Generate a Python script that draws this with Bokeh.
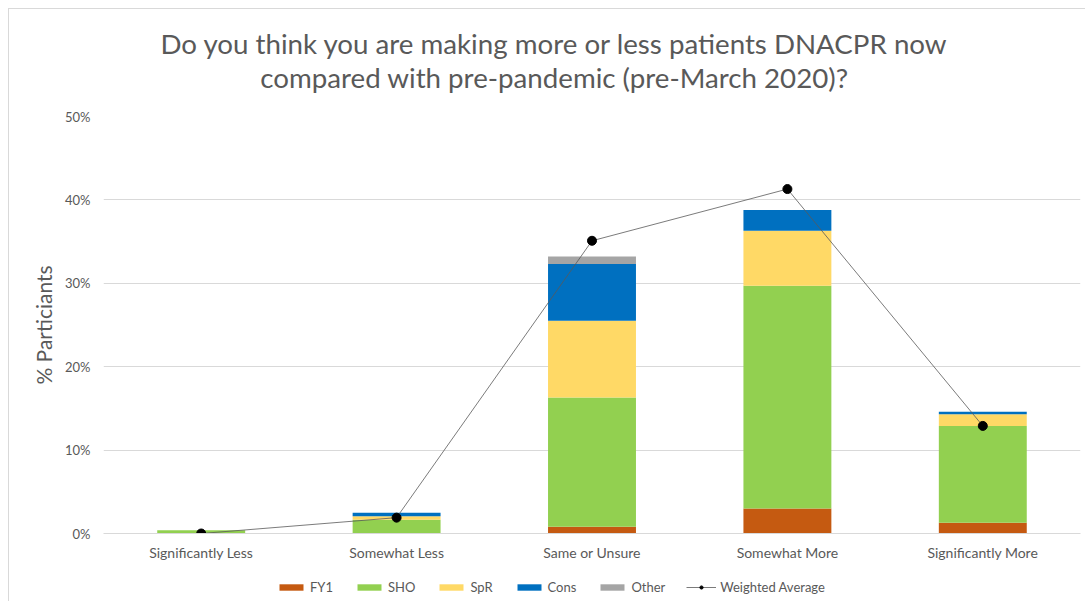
from bokeh.plotting import figure
from bokeh.layouts import column
from bokeh.models import ColumnDataSource, Legend, LegendItem, Label, PrintfTickFormatter, Range1d, FactorRange
from bokeh.embed import file_html
from bokeh.resources import INLINE

categories = ["Significantly Less", "Somewhat Less", "Same or Unsure", "Somewhat More", "Significantly More"]
fy1 = [0.0, 0.0, 0.8, 3.0, 1.3]
sho = [0.4, 1.65, 15.5, 26.7, 11.6]
spr = [0.0, 0.42, 9.2, 6.6, 1.4]
cons = [0.0, 0.42, 6.8, 2.5, 0.3]
other = [0.0, 0.0, 0.9, 0.0, 0.0]
weighted_avg = [0.0, 1.9, 35.1, 41.3, 12.9]
y_ticks = [0, 10, 20, 30, 40, 50]
title_lines = ["Do you think you are making more or less patients DNACPR now",
               "compared with pre-pandemic (pre-March 2020)?"]

series = ["FY1", "SHO", "SpR", "Cons", "Other"]
colors = ["#C55A11", "#92D050", "#FFD966", "#0070C0", "#A5A5A5"]

src = ColumnDataSource(dict(cat=categories, FY1=fy1, SHO=sho, SpR=spr, Cons=cons, Other=other, wa=weighted_avg))

FONT = "Lato"
GREY = "#595959"
W = 1076

# ---- title strip (frame aligned with the chart frame; x in page pixels) ----
pt = figure(width=W, height=97, x_range=Range1d(103, 1080), y_range=Range1d(0, 97),
            output_backend="svg", toolbar_location=None, x_axis_location=None, y_axis_location=None,
            min_border=0)
pt.grid.visible = False
pt.outline_line_color = None
for txt, yy in zip(title_lines, [63, 29]):
    pt.add_layout(Label(x=554, y=yy, text=txt, text_align="center", text_baseline="middle",
                        text_font=FONT, text_font_size="27.7px", text_color=GREY))

# ---- main chart ----
p = figure(x_range=FactorRange(*categories), y_range=Range1d(0, 50), width=W, height=467,
           output_backend="svg", toolbar_location=None,
           min_border_left=94, min_border_right=5, min_border_top=10, min_border_bottom=40)

bars = p.vbar_stack(series, x="cat", width=0.45, color=colors, source=src, line_color=None)
line = p.line(x="cat", y="wa", source=src, line_color=GREY, line_width=0.8)
dots = p.scatter(x="cat", y="wa", source=src, size=9, color="black")

p.yaxis.ticker = y_ticks
p.yaxis.formatter = PrintfTickFormatter(format="%d%%")
p.yaxis.axis_label = "% Particiants"
p.yaxis.axis_label_text_font = FONT
p.yaxis.axis_label_text_font_size = "21px"
p.yaxis.axis_label_text_font_style = "normal"
p.yaxis.axis_label_text_color = GREY
p.yaxis.axis_label_standoff = 6
p.yaxis.major_label_text_font = FONT
p.yaxis.major_label_text_font_size = "13px"
p.yaxis.major_label_text_color = GREY
p.yaxis.major_label_standoff = 7
p.yaxis.axis_line_color = None
p.yaxis.major_tick_line_color = None
p.yaxis.minor_tick_line_color = None

p.xaxis.major_label_text_font = FONT
p.xaxis.major_label_text_font_size = "14px"
p.xaxis.major_label_text_color = GREY
p.xaxis.major_label_standoff = 4
p.xaxis.axis_line_color = "#D9D9D9"
p.xaxis.major_tick_line_color = None
p.xaxis.minor_tick_line_color = None

p.xgrid.grid_line_color = None
p.ygrid.grid_line_color = "#D9D9D9"
p.ygrid.ticker = y_ticks
p.outline_line_color = None

# ---- legend strip (proxy renderers lie outside the strip's visible range) ----
pl = figure(width=W, height=28, x_range=Range1d(0, 1), y_range=Range1d(0, 1),
            output_backend="svg", toolbar_location=None, x_axis_location=None, y_axis_location=None,
            min_border=0)
pl.grid.visible = False
pl.outline_line_color = None
leg_src = ColumnDataSource(dict(x=[-5, -4], y=[-5, -5]))
items = []
for s, c in zip(series, colors):
    r = pl.vbar(x="x", top="y", bottom=-6, width=0.1, color=c, line_color=None, source=leg_src)
    items.append(LegendItem(label=s, renderers=[r]))
lr = pl.line(x="x", y="y", source=leg_src, line_color=GREY, line_width=0.8)
sr = pl.scatter(x="x", y="y", source=leg_src, size=9, color="black")
items.append(LegendItem(label="Weighted Average", renderers=[lr, sr]))
legend = Legend(items=items, orientation="horizontal", location=(173, 6),
                label_text_font=FONT, label_text_font_size="13px", label_text_color=GREY,
                glyph_width=30, glyph_height=8, spacing=21, border_line_color=None,
                background_fill_alpha=0, padding=0, margin=0, label_standoff=4)
pl.add_layout(legend, "center")

layout = column(pt, p, pl, spacing=0)
layout.styles = {"margin-left": "8px", "margin-top": "8px",
                 "border-top": "1px solid #D9D9D9", "border-left": "1px solid #D9D9D9"}

open("out.html", "w").write(file_html(layout, INLINE))
